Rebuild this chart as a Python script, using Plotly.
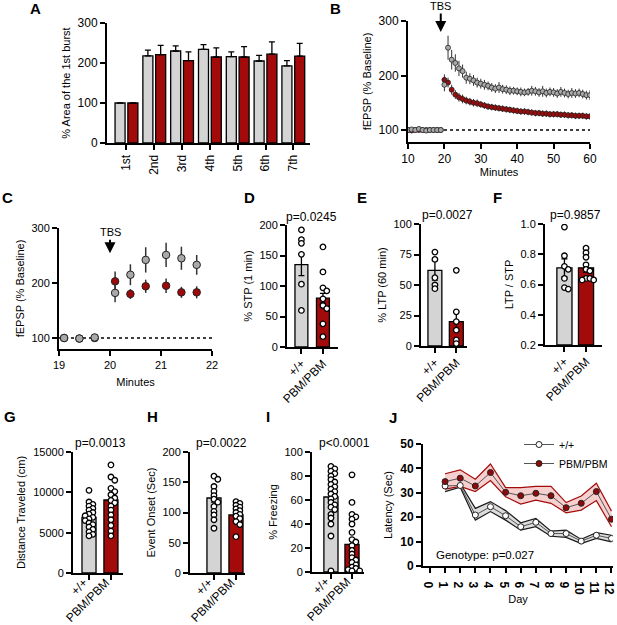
import plotly.graph_objects as go

W, H = 617, 625
FONT = "Arial, Liberation Sans, sans-serif"
GRAY_BAR = "#d4d4d4"
RED_BAR = "#a30b0b"
GRAY_DOT = "#a9a9a9"
RED_DOT = "#9e0a0a"
EDGE = "#222222"

# ---- A: burst area ----
burst_labels = ["1st", "2nd", "3rd", "4th", "5th", "6th", "7th"]
burst_wt = [100, 218, 230, 234, 216, 205, 193]
burst_wt_sem = [0, 14, 13, 12, 12, 14, 13]
burst_pbm = [100, 221, 206, 215, 215, 222, 217]
burst_pbm_sem = [0, 23, 22, 23, 26, 31, 32]

# ---- B: fEPSP time course (baseline 10-19, post TBS 20-60) ----
b_minutes = list(range(10, 61))
b_wt = [100, 101, 100, 102, 100, 99, 100, 100, 100, 100,
        183, 251, 229, 223, 213, 208, 196, 194, 191, 187,
        185, 183, 181, 178, 176, 178, 175, 174, 172, 172,
        171, 170, 169, 170, 172, 171, 169, 171, 168, 170,
        169, 167, 170, 168, 166, 168, 167, 168, 166, 164, 164]
b_wt_sem = [2, 2, 2, 2, 2, 2, 2, 2, 2, 2,
            12, 22, 18, 16, 14, 12, 11, 10, 10, 9,
            9, 9, 8, 8, 8, 10, 8, 8, 8, 7,
            7, 8, 7, 7, 9, 8, 8, 10, 8, 8,
            8, 8, 9, 8, 8, 9, 8, 8, 8, 8, 9]
b_pbm = [100, 99, 100, 100, 100, 100, 100, 100, 100, 100,
         192, 187, 174, 165, 160, 157, 154, 152, 150, 149,
         147, 145, 143, 142, 141, 140, 139, 138, 137, 136,
         135, 134, 134, 133, 132, 131, 131, 130, 130, 129,
         129, 129, 128, 128, 127, 127, 126, 126, 126, 125, 125]
b_pbm_sem = [2, 2, 2, 2, 2, 2, 2, 2, 2, 2,
             10, 9, 9, 8, 8, 8, 7, 7, 7, 7,
             6, 6, 6, 6, 6, 6, 6, 6, 6, 6,
             6, 6, 6, 6, 6, 6, 6, 6, 6, 6,
             6, 6, 6, 6, 6, 6, 6, 6, 6, 6, 6]

# ---- C: zoom around TBS ----
c_minutes = [19.1, 19.4, 19.7, 20.1, 20.4, 20.7, 21.1, 21.4, 21.7]
c_wt = [100, 99, 101, 182, 215, 242, 251, 245, 233]
c_wt_sem = [2, 2, 3, 17, 19, 23, 22, 21, 18]
c_pbm = [100, 99, 100, 203, 180, 194, 195, 183, 183]
c_pbm_sem = [2, 2, 2, 18, 9, 12, 13, 10, 11]

genotypes = ["+/+", "PBM/PBM"]

# ---- D: STP ----
stp_mean = [135, 80]
stp_sem = [18, 8]
stp_wt = [192, 176, 170, 152, 103, 60]
stp_pbm = [164, 123, 97, 92, 79, 68, 63, 38, 17]

# ---- E: LTP ----
ltp_mean = [62, 20]
ltp_sem = [8, 8]
ltp_wt = [77, 71, 56, 50, 47]
ltp_pbm = [62, 28, 20, 13, 5, 2]

# ---- F: LTP/STP ----
ratio_mean = [0.71, 0.71]
ratio_sem = [0.06, 0.03]
ratio_wt = [0.98, 0.79, 0.72, 0.70, 0.64, 0.58, 0.57]
ratio_pbm = [0.84, 0.81, 0.78, 0.73, 0.70, 0.69, 0.64, 0.64, 0.63, 0.63]

# ---- G: distance ----
dist_mean = [6900, 9050]
dist_sem = [350, 550]
dist_wt = [10250, 8800, 8500, 8300, 8000, 7800, 7500, 7300, 7100, 6900,
           6700, 6500, 6200, 6000, 5700, 5400, 5100, 4800, 4600]
dist_pbm = [13400, 11900, 11500, 10500, 10100, 9700, 9300, 9000, 8700, 8300,
            7800, 7200, 6600, 5900, 5200, 4600]

# ---- H: event onset ----
onset_mean = [124, 96]
onset_sem = [7, 5]
onset_wt = [160, 155, 143, 135, 128, 122, 117, 110, 102, 96, 88, 74]
onset_pbm = [118, 115, 112, 109, 106, 103, 100, 97, 94, 90, 85, 80, 60]

# ---- I: freezing ----
freeze_mean = [62.5, 23]
freeze_sem = [3.5, 4]
freeze_wt = [88, 86, 84, 82, 80, 77, 75, 73, 71, 69, 67, 65, 63, 61, 58, 56,
             54, 52, 48, 45, 40, 30, 1]
freeze_pbm = [81, 58, 48, 46, 44, 40, 33, 27, 25, 22, 18, 15, 12, 10, 8, 6,
              4, 3, 2, 1, 1]

# ---- J: latency ----
days = [1, 2, 3, 4, 5, 6, 7, 8, 9, 10, 11, 12]
lat_wt = [32.8, 33.0, 20.9, 24.3, 20.6, 16.1, 17.9, 13.3, 13.3, 10.2, 12.6, 11.3]
lat_wt_hi = [34.5, 33.8, 23.6, 26.4, 22.7, 17.7, 19.5, 14.3, 14.7, 10.9, 13.7, 12.6]
lat_wt_lo = [30.5, 32.3, 18.8, 22.3, 18.8, 14.7, 16.1, 12.2, 11.7, 9.2, 11.3, 9.9]
lat_pbm = [34.6, 36.0, 32.8, 38.3, 30.2, 28.8, 29.8, 28.8, 23.9, 25.7, 30.5, 19.2]
lat_pbm_hi = [37.8, 39.4, 35.6, 41.8, 32.1, 32.1, 32.6, 32.6, 26.0, 28.7, 33.9, 22.5]
lat_pbm_lo = [31.5, 32.6, 30.5, 35.0, 28.4, 25.4, 27.0, 25.7, 21.8, 22.9, 26.8, 16.1]


def px(x):
    return x / W


def py(y):
    return 1 - y / H


def ref(n):
    return ("x", "y") if n == 1 else (f"x{n}", f"y{n}")


def axis(title=None, standoff=5, size=11, **kw):
    d = dict(showline=True, linecolor="black", linewidth=2, ticks="outside",
             ticklen=5, tickwidth=2, tickcolor="black", showgrid=False,
             zeroline=False, fixedrange=True, automargin=False,
             ticklabeloverflow="allow",
             tickfont=dict(family=FONT, size=size, color="black"))
    if title:
        d["title"] = dict(text=title, standoff=standoff,
                          font=dict(family=FONT, size=11, color="black"))
    d.update(kw)
    return d


# panel boxes in pixels: x0, x1, y0(top), y1(bottom), x range, y range
panels = {
    1: (107, 310, 23, 143, [-0.7, 6.6], [0, 300]),
    2: (408, 590, 21, 142, [10, 60], [78, 300]),
    3: (59, 212, 228, 349, [19, 22], [80, 300]),
    4: (287, 338, 225, 347, [-0.67, 1.7], [0, 200]),
    5: (421, 467, 224, 346, [-0.65, 1.5], [0, 100]),
    6: (545, 602, 224, 345, [-0.9, 1.74], [0.2, 1.0]),
    7: (73, 123, 452, 573, [-0.73, 1.55], [0, 15000]),
    8: (190, 245, 452, 573, [-1.09, 1.41], [0, 200]),
    9: (312, 364, 452, 572, [-0.9, 1.57], [0, 100]),
    10: (423, 613, 444, 566, [-0.46, 12.1], [0, 50]),
}

fig = go.Figure()
layout = {}
for n, (x0, x1, y0, y1, xr, yr) in panels.items():
    xa, ya = ref(n)
    layout["xaxis" if n == 1 else f"xaxis{n}"] = dict(
        domain=[px(x0), px(x1)], range=xr, anchor=ya)
    layout["yaxis" if n == 1 else f"yaxis{n}"] = dict(
        domain=[py(y1), py(y0)], range=yr, anchor=xa)


def swarm(vals, center, n, d=5.5):
    x0, x1, y0, y1, xr, yr = panels[n]
    sx = (x1 - x0) / (xr[1] - xr[0])
    sy = (y1 - y0) / (yr[1] - yr[0])
    cands = [0.0]
    for i in range(1, 8):
        cands += [i * 0.7 * d, -i * 0.7 * d]
    placed, xs = [], []
    for v in vals:
        yp = v * sy
        for c in cands:
            if all((c - a) ** 2 + (yp - b) ** 2 >= (0.62 * d) ** 2 for a, b in placed):
                break
        placed.append((c, yp))
        xs.append(center + c / sx)
    return xs


# ---- A ----
xa, ya = ref(1)
for vals, sem, col, off in [(burst_wt, burst_wt_sem, GRAY_BAR, -0.41),
                            (burst_pbm, burst_pbm_sem, RED_BAR, 0.05)]:
    fig.add_trace(go.Bar(
        x=list(range(len(burst_labels))), y=vals, width=0.36, offset=off,
        marker=dict(color=col, line=dict(color="black", width=1.3)),
        error_y=dict(type="data", array=sem, arrayminus=[0] * len(sem),
                     symmetric=False, color="black", thickness=1.3, width=3),
        xaxis=xa, yaxis=ya, showlegend=False))

# ---- B ----
xa, ya = ref(2)
for vals, sem, col in [(b_pbm, b_pbm_sem, RED_DOT), (b_wt, b_wt_sem, GRAY_DOT)]:
    fig.add_trace(go.Scatter(
        x=b_minutes, y=vals, mode="markers",
        marker=dict(size=5, color=col, line=dict(color=EDGE, width=0.8)),
        error_y=dict(type="data", array=sem, color="#333333", thickness=1, width=0),
        xaxis=xa, yaxis=ya, showlegend=False))

# ---- C ----
xa, ya = ref(3)
for vals, sem, col in [(c_pbm, c_pbm_sem, RED_DOT), (c_wt, c_wt_sem, GRAY_DOT)]:
    fig.add_trace(go.Scatter(
        x=c_minutes, y=vals, mode="markers",
        marker=dict(size=7.5, color=col, line=dict(color=EDGE, width=1)),
        error_y=dict(type="data", array=sem, color="#333333", thickness=1.5, width=0),
        xaxis=xa, yaxis=ya, showlegend=False))

# ---- D..I bar + dots ----
bar_panels = [
    (4, stp_mean, stp_sem, stp_wt, stp_pbm, 0.6),
    (5, ltp_mean, ltp_sem, ltp_wt, ltp_pbm, 0.65),
    (6, ratio_mean, ratio_sem, ratio_wt, ratio_pbm, 0.7),
    (7, dist_mean, dist_sem, dist_wt, dist_pbm, 0.64),
    (8, onset_mean, onset_sem, onset_wt, onset_pbm, 0.64),
    (9, freeze_mean, freeze_sem, freeze_wt, freeze_pbm, 0.67),
]
for n, mean, sem, wt, pbm, w in bar_panels:
    xa, ya = ref(n)
    base = panels[n][5][0]
    fig.add_trace(go.Bar(
        x=[0, 1], y=[m - base for m in mean], base=base, width=w,
        marker=dict(color=[GRAY_BAR, RED_BAR], line=dict(color="black", width=1.3)),
        error_y=dict(type="data", array=sem, color="black", thickness=1.3, width=3),
        xaxis=xa, yaxis=ya, showlegend=False))
    for c, pts in [(0, wt), (1, pbm)]:
        fig.add_trace(go.Scatter(
            x=swarm(pts, c, n), y=pts, mode="markers",
            marker=dict(size=5.5, color="white", line=dict(color="black", width=1.3)),
            xaxis=xa, yaxis=ya, showlegend=False))

# ---- J ----
xa, ya = ref(10)
for hi, lo, edge, fill in [(lat_wt_hi, lat_wt_lo, "#1a1a1a", "#dcdcdc"),
                           (lat_pbm_hi, lat_pbm_lo, "#a30b0b", "#f6cfcf")]:
    fig.add_trace(go.Scatter(x=days, y=hi, mode="lines",
                             line=dict(color=edge, width=1.2),
                             xaxis=xa, yaxis=ya, showlegend=False))
    fig.add_trace(go.Scatter(x=days, y=lo, mode="lines", fill="tonexty",
                             fillcolor=fill, line=dict(color=edge, width=1.2),
                             xaxis=xa, yaxis=ya, showlegend=False))
for vals, col, name in [(lat_wt, "white", "+/+"), (lat_pbm, "#8e0a0a", "PBM/PBM")]:
    fig.add_trace(go.Scatter(
        x=days, y=vals, mode="lines+markers", name=name,
        line=dict(color="#555555", width=1),
        marker=dict(size=6, color=col, line=dict(color="#222222", width=1)),
        xaxis=xa, yaxis=ya, showlegend=True))

# axis styling
layout["xaxis"].update(axis(tickvals=list(range(7)), ticktext=burst_labels, tickangle=-90, size=12))
layout["yaxis"].update(axis("% Area of the 1st burst", tickvals=[0, 100, 200, 300], size=12))
layout["xaxis2"].update(axis("Minutes", standoff=1, tickvals=[10, 20, 30, 40, 50, 60], size=12))
layout["yaxis2"].update(axis("fEPSP (% Baseline)", tickvals=[100, 200, 300], size=12))
layout["xaxis3"].update(axis("Minutes", standoff=8, tickvals=[19, 20, 21, 22]))
layout["yaxis3"].update(axis("fEPSP (% Baseline)", tickvals=[100, 200, 300]))
ytitles = {4: ("% STP (1 min)", [0, 50, 100, 150, 200]),
           5: ("% LTP (60 min)", [0, 25, 50, 75, 100]),
           6: ("LTP / STP", [0.2, 0.4, 0.6, 0.8, 1.0]),
           7: ("Distance Traveled (cm)", [0, 5000, 10000, 15000]),
           8: ("Event Onset (Sec)", [0, 50, 100, 150, 200]),
           9: ("% Freezing", [0, 20, 40, 60, 80, 100])}
for n, (t, tv) in ytitles.items():
    row3 = n >= 7
    layout[f"xaxis{n}"].update(axis(tickvals=[0, 1], ticktext=genotypes, tickangle=-45,
                                    ticklabelstandoff=-9 if row3 else -2,
                                    ticklabelshift=-5 if row3 else 0, size=12))
    layout[f"yaxis{n}"].update(axis(t, tickvals=tv))
layout["yaxis6"]["tickformat"] = ".1f"
layout["yaxis7"]["tickformat"] = "d"
bold = dict(family=FONT, size=12, color="black", weight=700)
layout["xaxis10"].update(axis("Day", standoff=1, tickvals=list(range(13)), tickfont=bold))
layout["yaxis10"].update(axis("Latency (Sec)", tickvals=[0, 10, 20, 30, 40, 50], tickfont=bold))

fig.update_layout(**layout)

# dotted baseline and TBS arrows
fig.add_shape(type="line", xref="x2", yref="y2", x0=10, x1=60, y0=100, y1=100,
              line=dict(color="black", width=1.5, dash="dot"), layer="below")
fig.add_shape(type="line", xref="x3", yref="y3", x0=19, x1=22, y0=100, y1=100,
              line=dict(color="black", width=1.5, dash="dot"), layer="below")

notes = []
for xr_, yr_, x, y, ay in [("x2", "y2", 19, 280, -26), ("x3", "y3", 20, 254, -21)]:
    notes.append(dict(xref=xr_, yref=yr_, x=x, y=y, ax=0, ay=ay, text="TBS",
                      showarrow=True, arrowhead=2, arrowsize=1.1, arrowwidth=2,
                      arrowcolor="black", font=dict(family=FONT, size=11, color="black")))

letters = [("A", 35, 8), ("B", 336, 8), ("C", 7, 198), ("D", 249, 198),
           ("E", 362, 198), ("F", 497, 198), ("G", 10, 416), ("H", 152, 416),
           ("I", 268, 416), ("J", 393, 418)]
for t, x, y in letters:
    notes.append(dict(xref="paper", yref="paper", x=px(x), y=py(y), text=t,
                      showarrow=False, xanchor="center", yanchor="middle",
                      font=dict(family=FONT, size=15, color="black", weight=700)))

pvals = [("p=0.0245", 312, 217), ("p=0.0027", 447, 215), ("p=0.9857", 575, 215),
         ("p=0.0013", 100, 443), ("p=0.0022", 221, 443), ("p<0.0001", 344, 443),
         ("Genotype: p=0.027", 485, 555)]
for t, x, y in pvals:
    notes.append(dict(xref="paper", yref="paper", x=px(x), y=py(y), text=t,
                      showarrow=False, xanchor="center", yanchor="middle",
                      font=dict(family=FONT, size=12 if t[0] == "p" else 11.5, color="black")))

fig.update_layout(
    width=W, height=H, autosize=False,
    margin=dict(l=0, r=0, t=0, b=0),
    paper_bgcolor="white", plot_bgcolor="white",
    barmode="overlay", annotations=notes,
    font=dict(family=FONT, color="black"),
    legend=dict(x=px(519), y=py(430), xanchor="left", yanchor="top",
                bgcolor="rgba(0,0,0,0)", itemwidth=30, tracegroupgap=0,
                traceorder="normal",
                font=dict(family=FONT, size=10.5, color="black")),
)

# the page body has a default 8px margin; drop it so the figure sits at 0,0
fig.write_html("out.html", config={"displayModeBar": False},
               post_script="document.body.style.margin='0px';")
